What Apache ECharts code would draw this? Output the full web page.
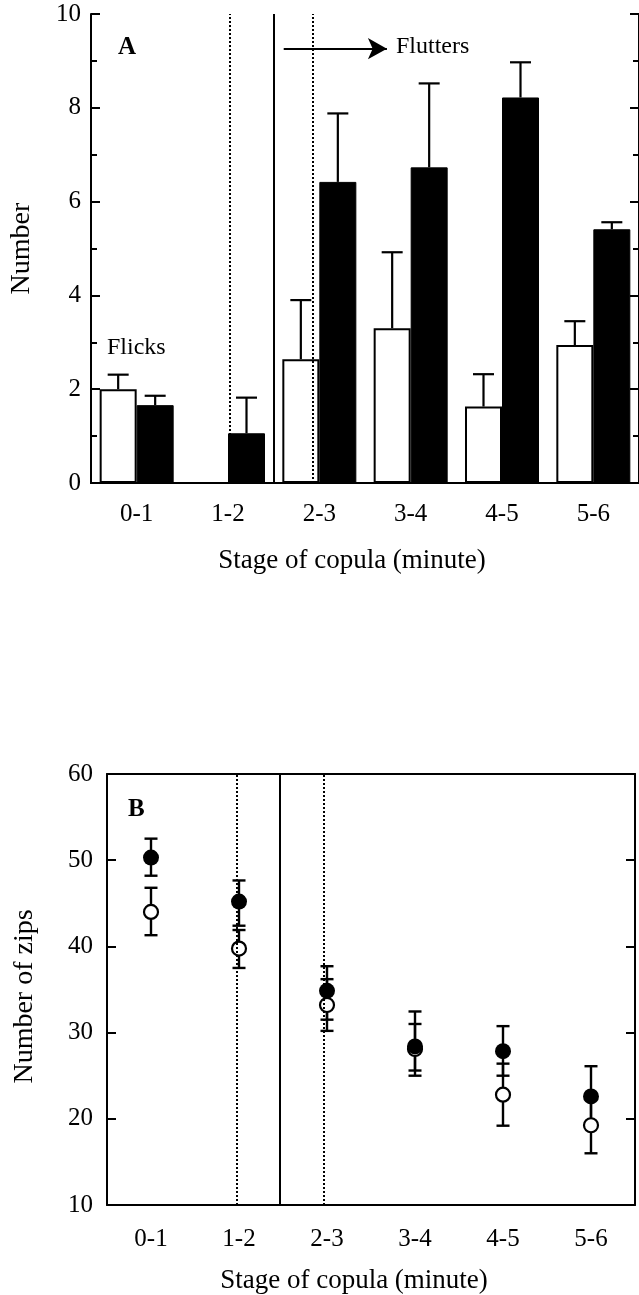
<!DOCTYPE html>
<html style="height: 100%">
<head>
<meta charset="utf-8" />
<title>Stage of copula</title>
<script src="https://cdn.jsdelivr.net/npm/echarts@6/dist/echarts.min.js"></script>
<script>
// stages of copula (minute)
var stages = ['0-1', '1-2', '2-3', '3-4', '4-5', '5-6'];

// panel A: number, open and filled bars, with upper error bar tops
var openBars = [2.0, '-', 2.64, 3.30, 1.63, 2.94];
var openBarsTop = [2.31, '-', 3.90, 4.92, 2.32, 3.45];
var filledBars = [1.66, 1.06, 6.42, 6.73, 8.22, 5.41];
var filledBarsTop = [1.86, 1.82, 7.88, 8.52, 8.97, 5.56];

// panel B: number of zips, means with lower / upper error limits
var filledZips = [50.3, 45.2, 34.85, 28.4, 27.85, 22.6];
var filledZipsLow = [48.2, 42.4, 31.5, 25.0, 25.0, 19.1];
var filledZipsHigh = [52.5, 47.65, 37.7, 32.45, 30.75, 26.1];
var openZips = [44.0, 39.75, 33.2, 28.1, 22.8, 19.25];
var openZipsLow = [41.3, 37.5, 30.2, 25.6, 19.2, 16.0];
var openZipsHigh = [46.8, 41.9, 36.2, 31.0, 26.4, 22.5];

var FONT = 'Liberation Serif';

window.onload = function () {
    var myChart = echarts.init(document.getElementById('container'));

    function errA(means, tops, offset) {
        var out = [];
        for (var i = 0; i < means.length; i++) {
            if (means[i] === '-') continue;
            out.push([i, means[i], tops[i], offset]);
        }
        return out;
    }
    function errB(low, high) {
        var out = [];
        for (var i = 0; i < low.length; i++) out.push([i, low[i], high[i]]);
        return out;
    }

    function renderUpper(params, api) {
        var off = api.value(3);
        var p0 = api.coord([api.value(0), api.value(1)]);
        var p1 = api.coord([api.value(0), api.value(2)]);
        var x = p0[0] + off;
        var st = { stroke: '#000', lineWidth: 2.2 };
        return {
            type: 'group',
            children: [
                { type: 'line', shape: { x1: x, y1: p0[1], x2: x, y2: p1[1] }, style: st },
                { type: 'line', shape: { x1: x - 10.5, y1: p1[1], x2: x + 10.5, y2: p1[1] }, style: st }
            ]
        };
    }
    function renderBoth(params, api) {
        var p0 = api.coord([api.value(0), api.value(1)]);
        var p1 = api.coord([api.value(0), api.value(2)]);
        var x = p0[0];
        var st = { stroke: '#000', lineWidth: 2.4 };
        return {
            type: 'group',
            children: [
                { type: 'line', shape: { x1: x, y1: p0[1], x2: x, y2: p1[1] }, style: st },
                { type: 'line', shape: { x1: x - 6.5, y1: p0[1], x2: x + 6.5, y2: p0[1] }, style: st },
                { type: 'line', shape: { x1: x - 6.5, y1: p1[1], x2: x + 6.5, y2: p1[1] }, style: st }
            ]
        };
    }

    var axisLine = { show: true, lineStyle: { color: '#000', width: 2 } };
    var label = { color: '#000', fontFamily: FONT, fontSize: 25 };
    var yName = { color: '#000', fontFamily: FONT, fontSize: 28 };

    var option = {
        animation: false,
        grid: [
            { left: 89, top: 14, width: 552, height: 469 },
            { left: 107, top: 774, width: 528, height: 436 }
        ],
        xAxis: [
            {
                gridIndex: 0, type: 'category', data: stages, position: 'bottom',
                axisLine: axisLine, axisTick: { inside: true, length: 8, lineStyle: { width: 2 } },
                axisLabel: Object.assign({ margin: 19 }, label),
                name: 'Stage of copula (minute)', nameLocation: 'middle', nameGap: 64,
                nameTextStyle: { color: '#000', fontFamily: FONT, fontSize: 27, padding: [0, 26, 0, 0] }
            },
            {
                gridIndex: 0, type: 'category', data: stages, position: 'top',
                axisLine: axisLine, axisTick: { inside: true, length: 8, lineStyle: { width: 2 } },
                axisLabel: { show: false }
            },
            { gridIndex: 0, type: 'value', min: 0, max: 6, show: false },
            {
                gridIndex: 1, type: 'category', data: stages, position: 'bottom',
                axisLine: axisLine,
                axisTick: { inside: true, alignWithLabel: true, length: 9, lineStyle: { width: 2 } },
                axisLabel: Object.assign({ margin: 22 }, label),
                name: 'Stage of copula (minute)', nameLocation: 'middle', nameGap: 62,
                nameTextStyle: { color: '#000', fontFamily: FONT, fontSize: 27, padding: [0, 34, 0, 0] }
            },
            {
                gridIndex: 1, type: 'category', data: stages, position: 'top',
                axisLine: axisLine,
                axisTick: { inside: true, alignWithLabel: true, length: 9, lineStyle: { width: 2 } },
                axisLabel: { show: false }
            },
            { gridIndex: 1, type: 'value', min: 0, max: 6, show: false }
        ],
        yAxis: [
            {
                gridIndex: 0, type: 'value', min: 0, max: 10, interval: 2, position: 'left',
                axisLine: axisLine, splitLine: { show: false },
                axisTick: { show: true, inside: true, length: 9, lineStyle: { width: 2 } },
                minorTick: { show: true, splitNumber: 2, length: 6, lineStyle: { color: '#000', width: 2 } },
                axisLabel: Object.assign({ margin: 10 }, label),
                name: 'Number', nameLocation: 'middle', nameGap: 55, nameTextStyle: yName
            },
            {
                gridIndex: 0, type: 'value', min: 0, max: 10, interval: 2, position: 'right',
                axisLine: axisLine, splitLine: { show: false },
                axisTick: { show: true, inside: true, length: 9, lineStyle: { width: 2 } },
                minorTick: { show: true, splitNumber: 2, length: 6, lineStyle: { color: '#000', width: 2 } },
                axisLabel: { show: false }
            },
            {
                gridIndex: 1, type: 'value', min: 10, max: 60, interval: 10, position: 'left',
                axisLine: axisLine, splitLine: { show: false },
                axisTick: { show: true, inside: true, length: 9, lineStyle: { width: 2 } },
                axisLabel: Object.assign({ margin: 14 }, label),
                name: 'Number of zips', nameLocation: 'middle', nameGap: 68,
                nameTextStyle: { color: '#000', fontFamily: FONT, fontSize: 28, padding: [0, 14, 0, 0] }
            },
            {
                gridIndex: 1, type: 'value', min: 10, max: 60, interval: 10, position: 'right',
                axisLine: axisLine, splitLine: { show: false },
                axisTick: { show: true, inside: true, length: 9, lineStyle: { width: 2 } },
                axisLabel: { show: false }
            }
        ],
        graphic: [
            { type: 'text', left: 118, top: 35, style: { text: 'A', font: 'bold 25px "Liberation Serif"', fill: '#000' } },
            { type: 'text', left: 107, top: 336, style: { text: 'Flicks', font: '24px "Liberation Serif"', fill: '#000' } },
            { type: 'text', left: 396, top: 35, style: { text: 'Flutters', font: '24px "Liberation Serif"', fill: '#000' } },
            { type: 'text', left: 128, top: 797, style: { text: 'B', font: 'bold 25px "Liberation Serif"', fill: '#000' } }
        ],
        series: [
            {
                name: 'open', type: 'bar', xAxisIndex: 0, yAxisIndex: 0, data: openBars,
                barWidth: 37, barGap: '0%',
                itemStyle: { color: '#fff', borderColor: '#000', borderWidth: 2 }
            },
            {
                name: 'filled', type: 'bar', xAxisIndex: 0, yAxisIndex: 0, data: filledBars,
                barWidth: 37, barGap: '0%',
                itemStyle: { color: '#000', borderColor: '#000', borderWidth: 1 }
            },
            {
                type: 'custom', xAxisIndex: 0, yAxisIndex: 0, renderItem: renderUpper,
                data: errA(openBars, openBarsTop, -18.5), z: 3
            },
            {
                type: 'custom', xAxisIndex: 0, yAxisIndex: 0, renderItem: renderUpper,
                data: errA(filledBars, filledBarsTop, 18.5), z: 3
            },
            {
                type: 'line', xAxisIndex: 2, yAxisIndex: 0, data: [], z: 5,
                markLine: {
                    silent: true, symbol: 'none', label: { show: false }, animation: false,
                    data: [
                        { xAxis: 1.52, lineStyle: { type: 'dotted', width: 2, color: '#000' } },
                        { xAxis: 2.0, lineStyle: { type: 'solid', width: 2, color: '#000' } },
                        { xAxis: 2.43, lineStyle: { type: 'dotted', width: 2, color: '#000' } },
                        [
                            { coord: [2.11, 9.26], symbol: 'none', lineStyle: { type: 'solid', width: 2, color: '#000' } },
                            { coord: [3.24, 9.26], symbol: 'arrow', symbolSize: [16, 19] }
                        ]
                    ]
                }
            },
            {
                type: 'line', xAxisIndex: 5, yAxisIndex: 2, data: [], z: 6,
                markLine: {
                    silent: true, symbol: 'none', label: { show: false }, animation: false,
                    data: [
                        { xAxis: 1.477, lineStyle: { type: 'dotted', width: 2, color: '#000' } },
                        { xAxis: 1.955, lineStyle: { type: 'solid', width: 2, color: '#000' } },
                        { xAxis: 2.455, lineStyle: { type: 'dotted', width: 2, color: '#000' } }
                    ]
                }
            },
            {
                type: 'custom', xAxisIndex: 3, yAxisIndex: 2, renderItem: renderBoth,
                data: errB(openZipsLow, openZipsHigh), z: 2
            },
            {
                type: 'custom', xAxisIndex: 3, yAxisIndex: 2, renderItem: renderBoth,
                data: errB(filledZipsLow, filledZipsHigh), z: 2
            },
            {
                name: 'open zips', type: 'scatter', xAxisIndex: 3, yAxisIndex: 2, data: openZips,
                symbol: 'circle', symbolSize: 14, z: 4,
                itemStyle: { color: '#fff', borderColor: '#000', borderWidth: 2.2, opacity: 1 }
            },
            {
                name: 'filled zips', type: 'scatter', xAxisIndex: 3, yAxisIndex: 2, data: filledZips,
                symbol: 'circle', symbolSize: 16, z: 4,
                itemStyle: { color: '#000', opacity: 1 }
            }
        ]
    };
    myChart.setOption(option);
};
</script>
</head>
<body style="height: 100%; margin: 0; background: #fff;">
<div id="container" style="width: 639px; height: 1295px;"></div>
</body>
</html>
